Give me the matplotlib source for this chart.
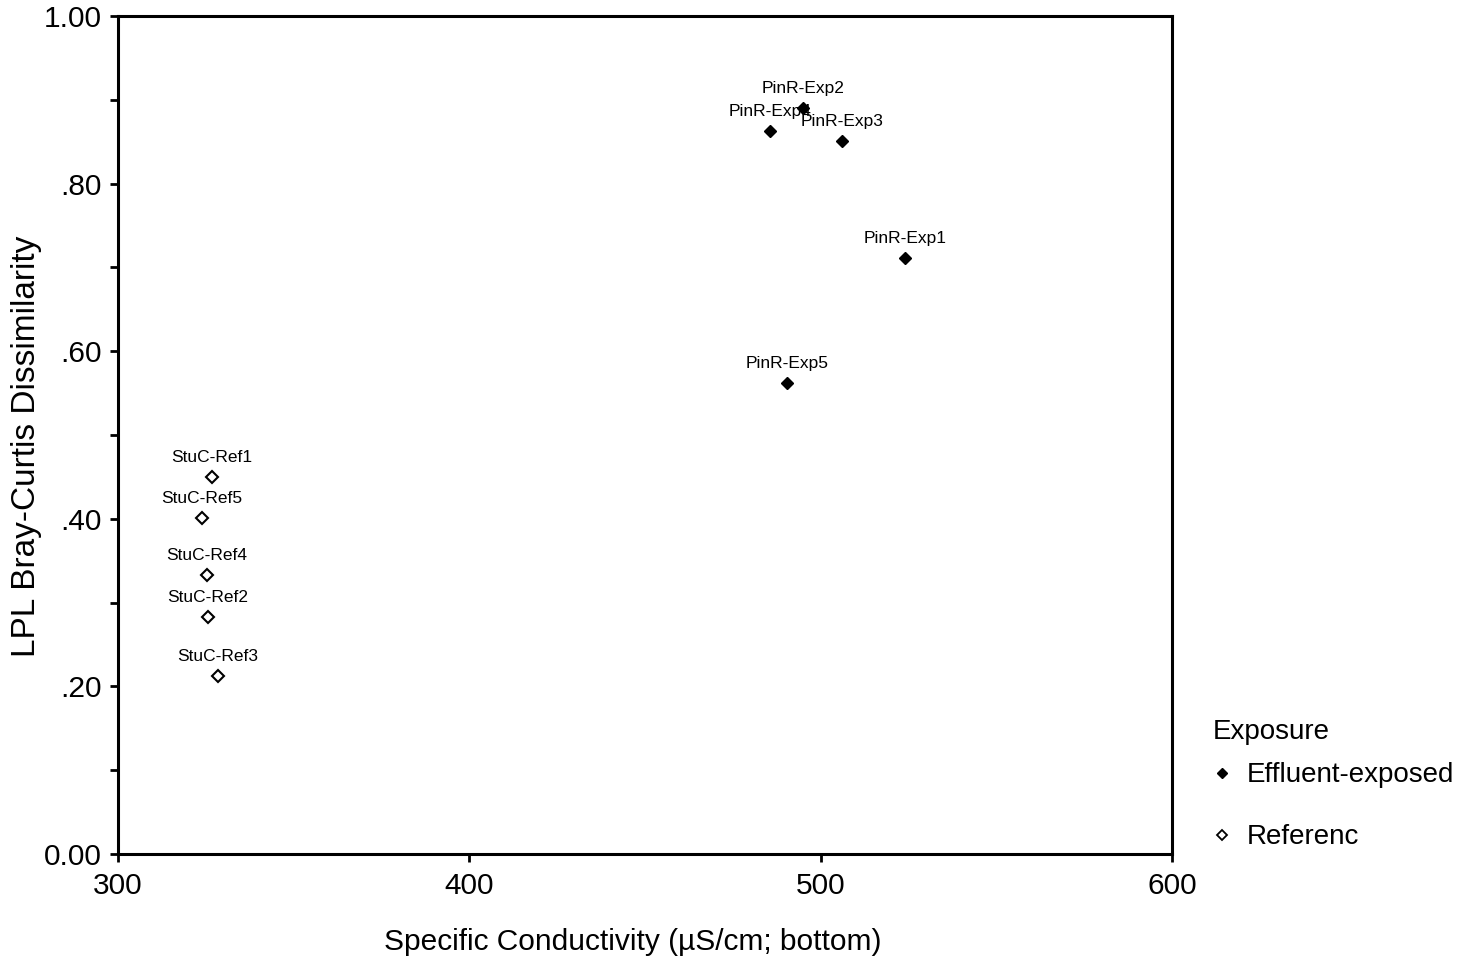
import matplotlib
matplotlib.use("Agg")
import matplotlib.pyplot as plt
from matplotlib.ticker import FuncFormatter, MultipleLocator
from matplotlib.lines import Line2D

plt.rcParams['font.family'] = ['Liberation Sans', 'DejaVu Sans']

# effluent-exposed sites
exp_names = ['PinR-Exp1', 'PinR-Exp2', 'PinR-Exp3', 'PinR-Exp4', 'PinR-Exp5']
exp_cond = [524.0, 495.0, 506.0, 485.6, 490.4]
exp_diss = [0.711, 0.890, 0.851, 0.863, 0.562]

# reference sites
ref_names = ['StuC-Ref1', 'StuC-Ref2', 'StuC-Ref3', 'StuC-Ref4', 'StuC-Ref5']
ref_cond = [326.8, 325.6, 328.5, 325.3, 323.9]
ref_diss = [0.450, 0.283, 0.212, 0.333, 0.401]

fig = plt.figure(figsize=(14.81, 9.66), dpi=100)
ax = fig.add_axes([0.0797, 0.1159, 0.7117, 0.8675])

ax.plot(exp_cond, exp_diss, 'D', color='black', markersize=6.5, linestyle='none')
ax.plot(ref_cond, ref_diss, 'D', markerfacecolor='white', markeredgecolor='black',
        markeredgewidth=1.5, markersize=6.5, linestyle='none')

for name, x, y in zip(exp_names + ref_names, exp_cond + ref_cond, exp_diss + ref_diss):
    ax.annotate(name, (x, y), xytext=(0, 11), textcoords='offset points',
                ha='center', va='baseline', fontsize=12.5)

ax.set_xlim(300, 600)
ax.set_ylim(0, 1)
ax.set_xticks([300, 400, 500, 600])
ax.yaxis.set_major_locator(MultipleLocator(0.2))
ax.yaxis.set_minor_locator(MultipleLocator(0.1))


def yfmt(v, pos):
    if abs(v) < 1e-9:
        return '0.00'
    if abs(v - 1) < 1e-9:
        return '1.00'
    return ('%.2f' % v)[1:]


ax.yaxis.set_major_formatter(FuncFormatter(yfmt))
ax.tick_params(axis='both', which='both', direction='out', width=2, length=6,
               labelsize=21.5)
ax.tick_params(axis='x', which='major', pad=7)
ax.tick_params(axis='y', which='major', pad=6)
for s in ax.spines.values():
    s.set_linewidth(2.2)

ax.set_xlabel('Specific Conductivity (\u00b5S/cm; bottom)', fontsize=21.5)
ax.xaxis.set_label_coords(0.4886, -0.0885)
ax.set_ylabel('LPL Bray-Curtis Dissimilarity', fontsize=24)
ax.yaxis.set_label_coords(-0.0725, 0.487)

handles = [
    Line2D([], [], marker='D', color='black', linestyle='none', markersize=5),
    Line2D([], [], marker='D', markerfacecolor='white', markeredgecolor='black',
           markeredgewidth=1.3, linestyle='none', markersize=5),
]
leg = ax.legend(handles, ['Effluent-exposed', 'Referenc'],
                loc='lower left', bbox_to_anchor=(1.0232, -0.009), frameon=False,
                fontsize=20, labelspacing=1.3,
                handletextpad=0.42, handlelength=1.0, borderaxespad=0)
ax.text(1.0385, 0.1455, 'Exposure', transform=ax.transAxes, fontsize=20,
        ha='left', va='center')

fig.savefig('out.png', dpi=100)
